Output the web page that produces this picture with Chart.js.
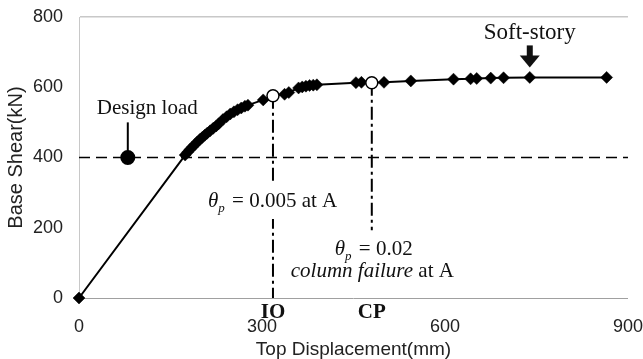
<!DOCTYPE html>
<html>
<head>
<meta charset="utf-8">
<script src="https://cdn.jsdelivr.net/npm/chart.js@4.4.1/dist/chart.umd.min.js"></script>
<style>
  html, body { margin: 0; padding: 0; background: #fff; }
  #wrap { width: 643px; height: 359px; }
</style>
</head>
<body>
<div id="wrap"><canvas id="c" width="643" height="359"></canvas></div>
<script>
// ---- data ----
const dispMM  = [0, 174, 178, 182, 186, 190, 194, 198, 202, 206, 210, 215, 220, 225, 229,
                 236, 242, 248, 254, 260, 266, 272, 277, 302, 337, 344,
                 360, 366, 372, 378, 384, 390, 454, 463, 500, 544, 614, 642, 652, 675, 696, 739, 865];
const shearKN = [0, 407, 415, 423, 430, 437, 444, 451, 457, 463, 469, 476, 483, 490, 496,
                 508, 516, 524, 530, 536, 541, 546, 549, 564, 580, 585,
                 598, 601, 603, 605, 606, 607, 613, 614, 614, 618, 623, 624, 625, 626, 627, 628, 628];
const limitLabels = ['IO', 'CP'];
const limitDisp   = [318, 480];
const limitShear  = [576, 613];
const cpLineBottom = 193;
const designLoadDisp = 80;
const designLoadShear = 400;
const designLoadLineTop = 500;
const softStoryDisp = 739;
const softStoryShear = 628;
const xTicks = [0, 300, 600, 900];
const yTicks = [0, 200, 400, 600, 800];

// ---- build curve with limit-state points merged in ----
const curve = dispMM.map((x, i) => ({ x, y: shearKN[i], limit: false }));
limitDisp.forEach((x, i) => curve.push({ x, y: limitShear[i], limit: true }));
curve.sort((a, b) => a.x - b.x);
const isLimit = ctx => ctx.raw && ctx.raw.limit;

const serif = '"Liberation Serif", "Times New Roman", serif';
const sans = '"Liberation Sans", Arial, sans-serif';

const annotations = {
  id: 'annotations',
  afterDatasetsDraw(chart) {
    const { ctx, scales: { x, y } } = chart;
    ctx.save();
    ctx.fillStyle = '#111';
    ctx.textBaseline = 'alphabetic';

    // Design load label
    const dlx = x.getPixelForValue(designLoadDisp);
    ctx.font = '21px ' + serif;
    ctx.textAlign = 'left';
    ctx.fillText('Design load', dlx - 31, y.getPixelForValue(designLoadLineTop) - 8);

    // Soft-story label + arrow
    const ssx = x.getPixelForValue(softStoryDisp);
    const ssy = y.getPixelForValue(softStoryShear);
    ctx.font = '23px ' + serif;
    ctx.textAlign = 'center';
    ctx.fillText('Soft-story', ssx, ssy - 38);
    ctx.fillRect(ssx - 3, ssy - 32, 6, 12);
    ctx.beginPath();
    ctx.moveTo(ssx - 10, ssy - 22);
    ctx.lineTo(ssx + 10, ssy - 22);
    ctx.lineTo(ssx, ssy - 10);
    ctx.closePath();
    ctx.fill();

    // theta_p = 0.005 at A  (white box breaks the IO line)
    const iox = x.getPixelForValue(limitDisp[0]);
    const cpx = x.getPixelForValue(limitDisp[1]);
    const bx = iox - 65;
    const by = 207;
    ctx.fillStyle = '#fff';
    ctx.fillRect(bx - 3, by - 24, 134, 36);
    ctx.fillStyle = '#111';
    ctx.textAlign = 'left';
    const drawTheta = (px, py, rest) => {
      ctx.font = 'italic 21px ' + serif;
      ctx.fillText('\u03B8', px, py);
      let w = ctx.measureText('\u03B8').width;
      ctx.font = 'italic 13px ' + serif;
      ctx.fillText('p', px + w, py + 5);
      w += ctx.measureText('p').width + 2;
      ctx.font = '21px ' + serif;
      ctx.fillText(rest, px + w, py);
    };
    drawTheta(bx, by, ' = 0.005 at A');

    // theta_p = 0.02 / column failure at A
    drawTheta(cpx - 37, 255, ' = 0.02');
    ctx.font = 'italic 21px ' + serif;
    const cfx = cpx - 81;
    ctx.fillText('column failure', cfx, 277);
    const cw = ctx.measureText('column failure ').width;
    ctx.font = '21px ' + serif;
    ctx.fillText('at A', cfx + cw, 277);

    // IO / CP labels
    ctx.font = 'bold 21px ' + serif;
    ctx.textAlign = 'center';
    ctx.fillText(limitLabels[0], iox, 318);
    ctx.fillText(limitLabels[1], cpx, 318);
    ctx.restore();
  }
};

new Chart(document.getElementById('c'), {
  type: 'scatter',
  data: {
    datasets: [
      {
        label: 'Pushover',
        data: curve,
        showLine: true,
        borderColor: '#000',
        borderWidth: 2,
        pointStyle: ctx => isLimit(ctx) ? 'circle' : 'rectRot',
        pointRadius: 6,
        pointBackgroundColor: ctx => isLimit(ctx) ? '#fff' : '#000',
        pointBorderColor: '#000',
        pointBorderWidth: ctx => isLimit(ctx) ? 1.5 : 0.5,
        order: 0,
        clip: false
      },
      {
        label: 'Design load',
        data: [{ x: designLoadDisp, y: designLoadShear }, { x: designLoadDisp, y: designLoadLineTop }],
        showLine: true,
        borderColor: '#000',
        borderWidth: 2,
        pointRadius: [6.5, 0],
        pointBackgroundColor: '#000',
        pointBorderColor: '#000',
        order: 1
      },
      {
        label: 'Design level',
        data: [{ x: 0, y: designLoadShear }, { x: 900, y: designLoadShear }],
        showLine: true,
        borderColor: '#000',
        borderWidth: 1.5,
        borderDash: [11, 6],
        pointRadius: 0,
        order: 3
      },
      {
        label: 'IO line',
        data: [{ x: limitDisp[0], y: limitShear[0] }, { x: limitDisp[0], y: 0 }],
        showLine: true,
        borderColor: '#000',
        borderWidth: 2,
        borderDash: [13, 4, 3, 4],
        pointRadius: 0,
        order: 2
      },
      {
        label: 'CP line',
        data: [{ x: limitDisp[1], y: limitShear[1] }, { x: limitDisp[1], y: cpLineBottom }],
        showLine: true,
        borderColor: '#000',
        borderWidth: 2,
        borderDash: [13, 4, 3, 4],
        pointRadius: 0,
        order: 2
      }
    ]
  },
  options: {
    responsive: false,
    animation: false,
    layout: { padding: { left: 0, right: 15, top: 17, bottom: 0 } },
    plugins: { legend: { display: false }, tooltip: { enabled: false } },
    scales: {
      x: {
        type: 'linear',
        min: 0, max: 900,
        afterBuildTicks: s => { s.ticks = xTicks.map(v => ({ value: v })); },
        afterFit: s => { s.height = 61; },
        ticks: { font: { family: sans, size: 18 }, color: '#222', padding: 0, maxRotation: 0 },
        grid: { display: true, drawTicks: true, tickLength: 18, color: 'rgba(0,0,0,0)', tickColor: 'rgba(0,0,0,0)' },
        border: { display: true, color: '#a0a0a0', width: 1 },
        title: {
          display: true, text: 'Top Displacement(mm)', color: '#222',
          font: { family: sans, size: 19, lineHeight: 1 }, padding: { top: 0, bottom: 0 }
        }
      },
      y: {
        type: 'linear',
        min: 0, max: 800,
        afterBuildTicks: s => { s.ticks = yTicks.map(v => ({ value: v })); },
        afterFit: s => { s.width = 79; },
        ticks: { font: { family: sans, size: 18 }, color: '#222', padding: 2 },
        grid: {
          display: true, drawTicks: true, tickLength: 14, tickColor: 'rgba(0,0,0,0)',
          color: c => (c.tick && c.tick.value === 800) ? '#c8c8c8' : 'rgba(0,0,0,0)',
          lineWidth: 1.5
        },
        border: { display: true, color: '#c8c8c8', width: 1 },
        title: {
          display: true, text: 'Base Shear(kN)', color: '#222',
          font: { family: sans, size: 20, lineHeight: 1 }, padding: { top: 6, bottom: 0 }
        }
      }
    }
  },
  plugins: [annotations]
});
</script>
</body>
</html>
